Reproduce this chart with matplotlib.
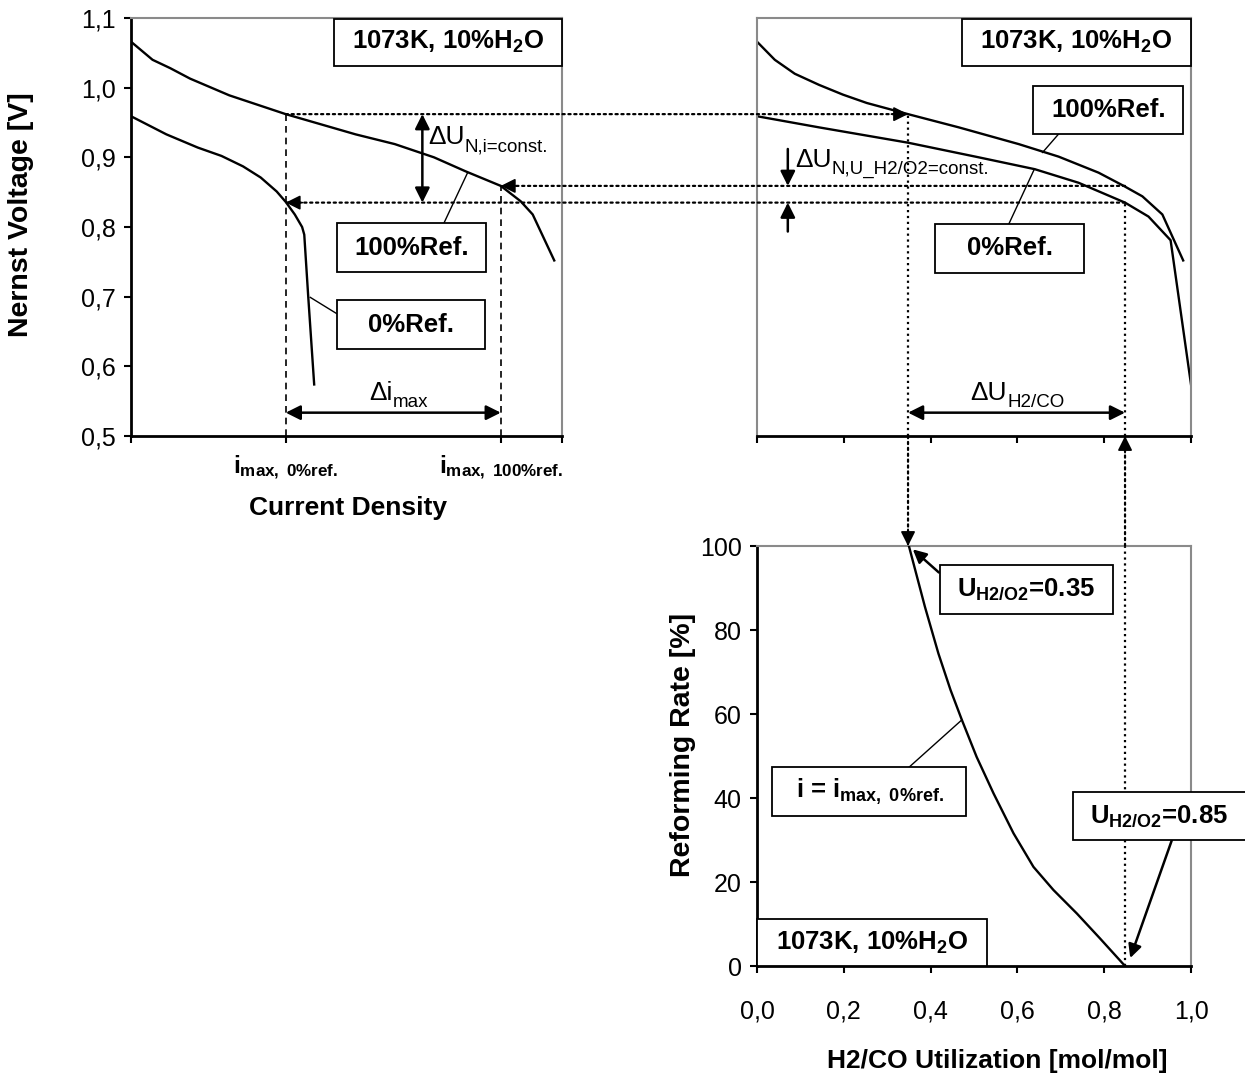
import matplotlib
matplotlib.use("Agg")
import matplotlib.pyplot as plt
from matplotlib.patches import Rectangle, ConnectionPatch

plt.rcParams['font.family'] = ['Liberation Sans', 'DejaVu Sans']
plt.rcParams['mathtext.fontset'] = 'custom'
plt.rcParams['mathtext.rm'] = 'Liberation Sans'
plt.rcParams['mathtext.it'] = 'Liberation Sans:italic'
plt.rcParams['mathtext.bf'] = 'Liberation Sans:bold'

# ---------------- data ----------------
# Left: Nernst voltage vs (normalised) current density
cd_100 = [0.0, 0.050, 0.091, 0.137, 0.228, 0.359, 0.521, 0.612, 0.703, 0.776, 0.858, 0.904, 0.932, 0.982]
un_cd_100 = [1.066, 1.040, 1.028, 1.013, 0.989, 0.962, 0.933, 0.919, 0.900, 0.880, 0.859, 0.837, 0.818, 0.752]
cd_0 = [0.0, 0.082, 0.155, 0.210, 0.260, 0.301, 0.338, 0.359, 0.380, 0.397, 0.402, 0.411, 0.425]
un_cd_0 = [0.959, 0.933, 0.914, 0.902, 0.887, 0.871, 0.851, 0.836, 0.818, 0.800, 0.789, 0.702, 0.574]

# Top right: Nernst voltage vs H2/CO utilization
ut_100 = [0.0, 0.041, 0.087, 0.143, 0.198, 0.253, 0.348, 0.465, 0.603, 0.695, 0.787, 0.845, 0.888, 0.934, 0.982]
un_ut_100 = [1.066, 1.040, 1.020, 1.004, 0.990, 0.978, 0.962, 0.943, 0.919, 0.901, 0.878, 0.859, 0.844, 0.818, 0.752]
ut_0 = [0.0, 0.143, 0.348, 0.511, 0.640, 0.741, 0.848, 0.902, 0.953, 1.0]
un_ut_0 = [0.959, 0.943, 0.921, 0.900, 0.883, 0.8635, 0.835, 0.815, 0.781, 0.574]

# Bottom right: reforming rate vs utilization at i = i_max,0%ref
ut_rr = [0.350, 0.387, 0.418, 0.446, 0.472, 0.506, 0.545, 0.591, 0.637, 0.683, 0.737, 0.790, 0.848]
rr = [100, 85.5, 74.4, 65.7, 58.6, 49.8, 41.1, 31.6, 23.6, 18.1, 12.5, 6.6, 0]

# key operating points
i_max_0 = 0.359
i_max_100 = 0.858
u_035 = 0.348
u_085 = 0.848
v_hi = 0.962      # 100%Ref at i_max,0%ref
v_mid = 0.859     # 100%Ref at i_max,100%ref
v_lo = 0.835      # 0%Ref at i_max,0%ref

volt_ticks = [0.5, 0.6, 0.7, 0.8, 0.9, 1.0, 1.1]
volt_labels = ['0,5', '0,6', '0,7', '0,8', '0,9', '1,0', '1,1']
util_ticks = [0.0, 0.2, 0.4, 0.6, 0.8, 1.0]
util_labels = ['0,0', '0,2', '0,4', '0,6', '0,8', '1,0']
rr_ticks = [0, 20, 40, 60, 80, 100]
cd_ticks = [0.0, i_max_0, i_max_100, 1.0]
cd_labels = ['', r'$\mathbf{i}_{\mathbf{max,\ 0\%ref.}}$', r'$\mathbf{i}_{\mathbf{max,\ 100\%ref.}}$', '']

# ---------------- figure ----------------
W, H = 1245, 1074
fig = plt.figure(figsize=(W / 100, H / 100), dpi=100)

def axrect(l, r, t, b):
    return [l / W, 1 - b / H, (r - l) / W, (b - t) / H]

ax1 = fig.add_axes(axrect(131, 562, 18, 436))
ax2 = fig.add_axes(axrect(757, 1191, 18, 436))
ax3 = fig.add_axes(axrect(757, 1191, 546, 966))

GRAY = '#8a8a8a'
TICKFS = 18
LABFS = 19
YLABFS = 20.5
BOXFS = 18.5
CLW = 1.7

for ax in (ax1, ax2, ax3):
    ax.set_xlim(0, 1)
    for s in ('top', 'right'):
        ax.spines[s].set_color(GRAY)
        ax.spines[s].set_linewidth(1.5)
    for s in ('left', 'bottom'):
        ax.spines[s].set_color('black')
        ax.spines[s].set_linewidth(2)
    ax.tick_params(direction='out', length=5, width=1.5, labelsize=TICKFS)

ax2.spines['left'].set_color(GRAY)
ax2.spines['left'].set_linewidth(1.5)

# ---- ax1 ----
ax1.set_ylim(0.5, 1.1)
ax1.set_yticks(volt_ticks)
ax1.set_yticklabels(volt_labels)
ax1.set_xticks(cd_ticks)
ax1.set_xticklabels(cd_labels, fontsize=17.5)
ax1.tick_params(axis='y', pad=6)
ax1.tick_params(axis='x', pad=8)
ax1.plot(cd_100, un_cd_100, color='black', lw=CLW)
ax1.plot(cd_0, un_cd_0, color='black', lw=CLW)
ax1.set_ylabel('Nernst Voltage [V]', fontsize=YLABFS, weight='bold')
ax1.yaxis.set_label_coords(-0.256, 0.529)
ax1.yaxis.label.set_va('center')
ax1.set_xlabel('Current Density', fontsize=LABFS, weight='bold')
ax1.xaxis.set_label_coords(0.503, -0.172)
ax1.xaxis.label.set_va('center')

# ---- ax2 ----
ax2.set_ylim(0.5, 1.1)
ax2.set_xticks(util_ticks)
ax2.tick_params(axis='x', labelbottom=False)
ax2.tick_params(axis='y', left=False, labelleft=False)
ax2.plot(ut_100, un_ut_100, color='black', lw=CLW)
ax2.plot(ut_0, un_ut_0, color='black', lw=CLW)

# ---- ax3 ----
ax3.set_ylim(0, 100)
ax3.set_xticks(util_ticks)
ax3.set_xticklabels(util_labels)
ax3.set_yticks(rr_ticks)
ax3.tick_params(axis='x', pad=19)
ax3.tick_params(axis='y', pad=6)
ax3.plot(ut_rr, rr, color='black', lw=CLW, zorder=3)
ax3.set_ylabel('Reforming Rate [%]', fontsize=YLABFS, weight='bold')
ax3.yaxis.set_label_coords(-0.170, 0.526)
ax3.yaxis.label.set_va('center')
ax3.set_xlabel('H2/CO Utilization [mol/mol]', fontsize=LABFS, weight='bold')
ax3.xaxis.set_label_coords(0.553, -0.226)
ax3.xaxis.label.set_va('center')


# ---------------- helpers ----------------
def box(ax, x0, y0, x1, y1, text, cx=None, cy=None, fs=BOXFS):
    ax.add_patch(Rectangle((x0, y0), x1 - x0, y1 - y0, facecolor='white',
                           edgecolor='black', lw=1.3, zorder=5, clip_on=False))
    ax.text((x0 + x1) / 2 if cx is None else cx, (y0 + y1) / 2 if cy is None else cy,
            text, ha='center', va='center', fontsize=fs, weight='bold', zorder=6,
            clip_on=False)


def subtext(ax, x, y, main, sub, fs=19, sfs=13.5, dy=-1.5):
    t = ax.text(x, y, main, fontsize=fs, ha='left', va='baseline', zorder=6)
    ax.annotate(sub, xy=(1, 0), xycoords=t, xytext=(0.3, dy), textcoords='offset points',
                fontsize=sfs, ha='left', va='baseline', zorder=6)


def leader(ax, p0, p1, lw=1.0):
    ax.plot([p0[0], p1[0]], [p0[1], p1[1]], color='black', lw=lw, zorder=4, clip_on=False)


def head(ax, tip, dx, dy, ms=22):
    ax.annotate('', xy=tip, xycoords='data', xytext=(dx, dy), textcoords='offset points',
                arrowprops=dict(arrowstyle='-|>', mutation_scale=ms, lw=1.2, color='black',
                                shrinkA=0, shrinkB=0), zorder=7, annotation_clip=False)


def arrow(ax, p0, p1, style='-|>', lw=1.8, ms=22, z=4):
    ax.annotate('', xy=p1, xycoords='data', xytext=p0, textcoords='data',
                arrowprops=dict(arrowstyle=style, mutation_scale=ms, lw=lw, color='black',
                                shrinkA=0, shrinkB=0), zorder=z, annotation_clip=False)


def cross(axA, pA, axB, pB):
    con = ConnectionPatch(xyA=pA, coordsA=axA.transData, xyB=pB, coordsB=axB.transData,
                          linestyle=':', lw=1.6, color='black', zorder=3)
    fig.add_artist(con)


H2O = r'1073K, 10%H$_\mathbf{2}$O'

# ---------------- left panel annotations ----------------
box(ax1, 0.47, 1.031, 1.0, 1.099, H2O)
box(ax1, 0.479, 0.7355, 0.824, 0.8055, '100%Ref.')
box(ax1, 0.479, 0.6255, 0.822, 0.6945, '0%Ref.')
leader(ax1, (0.726, 0.8055), (0.781, 0.878))
leader(ax1, (0.479, 0.675), (0.416, 0.699))

ax1.plot([i_max_0, i_max_0], [0.5, v_hi], color='black', lw=1.2, ls=(0, (4, 3)))
ax1.plot([i_max_100, i_max_100], [0.5, v_mid], color='black', lw=1.2, ls=(0, (4, 3)))

arrow(ax1, (0.676, v_lo), (0.676, v_hi), style='<|-|>')
subtext(ax1, 0.689, 0.919, 'ΔU', 'N,i=const.')

arrow(ax1, (i_max_0, 0.5335), (i_max_100, 0.5335), style='<|-|>')
subtext(ax1, 0.553, 0.552, 'Δi', 'max')

# ---------------- top right annotations ----------------
box(ax2, 0.472, 1.031, 1.0, 1.099, H2O)
box(ax2, 0.637, 0.9335, 0.982, 1.002, '100%Ref.')
box(ax2, 0.411, 0.7346, 0.754, 0.804, '0%Ref.')
leader(ax2, (0.695, 0.9335), (0.658, 0.907))
leader(ax2, (0.580, 0.804), (0.639, 0.883))

arrow(ax2, (0.071, 0.912), (0.071, v_mid), lw=1.8)
arrow(ax2, (0.071, 0.7935), (0.071, v_lo), lw=1.8)
subtext(ax2, 0.087, 0.8866, 'ΔU', 'N,U_H2/O2=const.')

arrow(ax2, (u_035, 0.5335), (u_085, 0.5335), style='<|-|>')
subtext(ax2, 0.491, 0.552, 'ΔU', 'H2/CO')

# vertical dotted lines in top right
ax2.plot([u_035, u_035], [0.5, v_hi], color='black', lw=1.6, ls=':', clip_on=False)
ax2.plot([u_085, u_085], [0.5, v_lo], color='black', lw=1.6, ls=':', clip_on=False)

# ---------------- bottom right annotations ----------------
ax3.plot([u_085, u_085], [0, 100], color='black', lw=1.6, ls=':', zorder=2)
box(ax3, 0.421, 83.7, 0.821, 95.5, r'U$_{\mathbf{H2/O2}}$=0.35')
box(ax3, 0.728, 30.0, 1.25, 41.4, r'U$_{\mathbf{H2/O2}}$=0.85', cx=0.926)
box(ax3, 0.034, 35.8, 0.481, 47.3, r'i = i$_{\mathbf{max,\ 0\%ref.}}$', cx=0.26)
box(ax3, 0.0, 0.0, 0.529, 11.2, H2O)
arrow(ax3, (0.419, 93.7), (0.359, 99.2), lw=1.8, ms=20)
arrow(ax3, (0.956, 30.0), (0.860, 1.9), lw=1.8, ms=20)
leader(ax3, (0.35, 47.3), (0.472, 58.6))

# ---------------- cross-panel dotted connectors ----------------
cross(ax1, (i_max_0, v_hi), ax2, (u_035, v_hi))
head(ax2, (u_035, v_hi), -12, 0)
cross(ax2, (u_085, v_mid), ax1, (i_max_100, v_mid))
head(ax1, (i_max_100, v_mid), 12, 0)
cross(ax2, (u_085, v_lo), ax1, (i_max_0, v_lo))
head(ax1, (i_max_0, v_lo), 12, 0)
cross(ax2, (u_035, 0.5), ax3, (u_035, 100))
head(ax3, (u_035, 100), 0, 12)
cross(ax3, (u_085, 100), ax2, (u_085, 0.5))
head(ax2, (u_085, 0.5), 0, -12)

fig.savefig('out.png', dpi=100)
